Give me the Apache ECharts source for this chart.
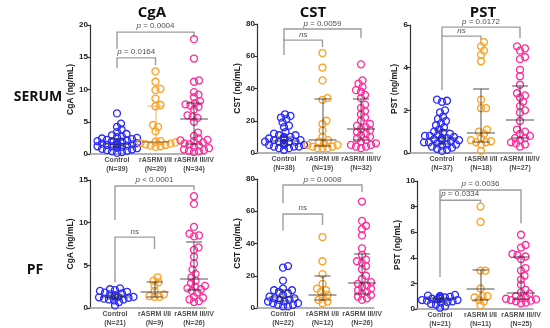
<!DOCTYPE html>
<html><head><meta charset="utf-8">
<script src="https://cdn.jsdelivr.net/npm/echarts@6/dist/echarts.min.js"></script>
<style>html,body{margin:0;padding:0;background:#fff}#c{width:550px;height:328px}</style>
</head><body><div id="c"></div>
<script>
// ---------- data (ng/mL) ----------
const groups = ['Control', 'rASRM I/II', 'rASRM III/IV'];
const panelTitles = ['CgA', 'CST', 'PST'];
const rowTitles = ['SERUM', 'PF'];
const yNames = ['CgA (ng/mL)', 'CST (ng/mL)', 'PST (ng/mL)', 'CgA (ng/mL)', 'CST (ng/mL)', 'PST (ng/mL)'];
const nSerumCgA = [39, 20, 34], nSerumCST = [38, 19, 32], nSerumPST = [37, 18, 27];
const nPfCgA = [21, 9, 26], nPfCST = [22, 12, 26], nPfPST = [21, 11, 25];

const cgaSerumControl = [6.3,4.7,4.2,3.8,3.4,3.1,2.9,2.7,2.6,2.5,2.4,2.3,2.2,2.1,2.0,2.0,1.9,1.8,1.7,1.6,1.6,1.5,1.5,1.4,1.3,1.3,1.2,1.2,1.1,1.0,1.0,0.9,0.8,0.7,0.6,0.5,0.4,0.3,0.2];
const cgaSerumI = [12.8,11.2,10.1,9.9,8.6,7.6,7.4,4.5,4.2,3.5,2.0,1.9,1.8,1.7,1.6,1.5,1.4,1.3,1.2,1.1];
const cgaSerumIII = [17.8,14.8,11.4,11.2,9.6,9.2,8.8,8.2,7.9,7.7,7.5,7.3,6.9,6.0,5.8,5.6,5.0,3.3,2.8,2.4,2.2,2.1,2.0,1.8,1.6,1.5,1.3,1.1,0.9,0.7,0.6,0.5,0.4,0.3];
const cstSerumControl = [24,23,22,21,19,17,16,13,12,11,11,10,10,9,9,9,8,8,8,8,7,7,7,7,6,6,6,6,5,5,5,5,4,4,4,3,3,2];
const cstSerumI = [62,53,45,34,33,20,18,14,10,8,7,6,5,5,4,4,3,3,3];
const cstSerumIII = [55,45,43,41,39,38,36,34,30,28,26,24,22,20,18,17,16,15,14,13,12,11,10,9,8,7,6,5,5,4,4,3];
const pstSerumControl = [2.5,2.45,2.4,2.0,1.9,1.7,1.6,1.5,1.4,1.3,1.2,1.1,1.0,0.95,0.9,0.85,0.8,0.8,0.75,0.7,0.7,0.7,0.65,0.6,0.6,0.55,0.5,0.5,0.45,0.4,0.4,0.35,0.3,0.25,0.2,0.15,0.1];
const pstSerumI = [5.2,5.0,4.8,4.6,4.3,2.5,2.1,2.1,1.1,1.0,0.9,0.7,0.6,0.55,0.5,0.5,0.4,0.1];
const pstSerumIII = [5.0,4.9,4.8,4.5,4.4,3.9,3.6,3.2,2.8,2.7,2.6,2.4,2.2,2.0,1.9,1.5,1.1,1.0,0.9,0.8,0.7,0.7,0.6,0.5,0.45,0.4,0.3];
const cgaPfControl = [2.3,2.2,2.1,2.0,1.9,1.8,1.7,1.6,1.5,1.4,1.35,1.3,1.3,1.25,1.2,1.1,1.0,1.0,0.9,0.7,0.3];
const cgaPfI = [3.6,3.2,3.0,2.6,2.0,1.6,1.4,1.3,1.3];
const cgaPfIII = [13.1,12.2,9.5,8.7,8.5,8.4,7.1,6.8,6.0,5.2,4.5,4.0,3.6,3.2,2.9,2.6,2.5,2.3,2.2,2.0,1.8,1.3,1.2,1.0,0.8,0.7];
const cstPfControl = [26,25,17,12,11,11,10,9,8,7,6,6,5,5,4,4,3,3,2,2,1,1];
const cstPfI = [44,29,21,15,12,11,10,8,7,5,4,3];
const cstPfIII = [66,54,51,49,45,37,33,30,29,28,26,24,20,18,16,15,14,13,12,11,10,9,8,7,6,5];
const pstPfControl = [1.1,1.05,1.0,1.0,0.95,0.9,0.9,0.85,0.8,0.8,0.75,0.7,0.7,0.65,0.6,0.55,0.5,0.4,0.35,0.2,0.1];
const pstPfI = [8.0,6.8,3.0,3.0,1.6,1.0,1.0,0.9,0.7,0.6,0.3];
const pstPfIII = [5.8,5.0,4.8,4.3,4.2,4.1,3.9,3.2,3.0,2.6,2.3,1.9,1.5,1.3,1.2,1.0,0.9,0.85,0.8,0.75,0.7,0.65,0.6,0.5,0.45];

// median, Q1, Q3 per group
const cgaSerumMed = [1.6, 1.9, 5.5], cgaSerumQ1 = [1.05, 1.75, 1.55], cgaSerumQ3 = [2.4, 7.5, 7.9];
const cstSerumMed = [7.5, 8, 15.3], cstSerumQ1 = [5.2, 4.5, 8.4], cstSerumQ3 = [10, 33.5, 33.5];
const pstSerumMed = [0.7, 0.95, 1.55], pstSerumQ1 = [0.45, 0.55, 0.7], pstSerumQ3 = [1.1, 3.0, 3.15];
const cgaPfMed = [1.3, 1.95, 3.45], cgaPfQ1 = [1.1, 1.3, 2.1], cgaPfQ3 = [1.55, 3.1, 7.8];
const cstPfMed = [6.8, 8, 15.7], cstPfQ1 = [4.5, 5, 9.1], cstPfQ3 = [11.5, 19.8, 33.9];
const pstPfMed = [0.8, 1.55, 1.3], pstPfQ1 = [0.55, 0.7, 0.77], pstPfQ3 = [0.9, 3.05, 4.1];

// significance brackets: [group a, group b, bracket y, leg end a, leg end b, text y, text]
const cgaSerumSig = [[1, 3, 18.9, 16.3, 18.1, 19.85, 'p = 0.0004'], [1, 2, 14.9, 13.3, 13.8, 15.8, 'p = 0.0164']];
const cstSerumSig = [[1, 3, 76.9, 70, 71.3, 80, 'p = 0.0059'], [1, 2, 70, 60.8, 65.7, 73.3, 'ns']];
const pstSerumSig = [[1, 3, 5.9, 5.48, 5.39, 6.14, 'p = 0.0172'], [1, 2, 5.48, 2.95, 5.3, 5.72, 'ns']];
const cgaPfSig = [[1, 3, 14.3, 10.3, 13.8, 15.0, 'p < 0.0001'], [1, 2, 8.3, 3.0, 6.9, 8.9, 'ns']];
const cstPfSig = [[1, 3, 76.3, 65, 72, 79.4, 'p = 0.0008'], [1, 2, 58.3, 48, 51.5, 62, 'ns']];
const pstPfSig = [[1, 3, 9.3, 8.5, 6.7, 9.77, 'p = 0.0036'], [1, 2, 8.5, 2.5, 8.3, 8.98, 'p = 0.0334']];

// ---------- layout ----------
const colors = ['#2b2bff', '#ffa020', '#ff2d9a'];
const panels = [
  {data: [cgaSerumControl, cgaSerumI, cgaSerumIII], n: nSerumCgA, med: cgaSerumMed, q1: cgaSerumQ1, q3: cgaSerumQ3, sig: cgaSerumSig,
   L: 90, T: 25, H: 129, c1: 117, s: 38.5, yMax: 20, iv: 5, gap: 10, barColor: [null, '#f0a030', null]},
  {data: [cstSerumControl, cstSerumI, cstSerumIII], n: nSerumCST, med: cstSerumMed, q1: cstSerumQ1, q3: cstSerumQ3, sig: cstSerumSig,
   L: 257, T: 24, H: 129, c1: 284, s: 38.5, yMax: 80, iv: 20, gap: 6},
  {data: [pstSerumControl, pstSerumI, pstSerumIII], n: nSerumPST, med: pstSerumMed, q1: pstSerumQ1, q3: pstSerumQ3, sig: pstSerumSig,
   L: 410, T: 25, H: 128, c1: 442, s: 39, yMax: 6, iv: 2, gap: 4},
  {data: [cgaPfControl, cgaPfI, cgaPfIII], n: nPfCgA, med: cgaPfMed, q1: cgaPfQ1, q3: cgaPfQ3, sig: cgaPfSig,
   L: 90, T: 180, H: 128, c1: 115, s: 39.5, yMax: 15, iv: 5, gap: 13},
  {data: [cstPfControl, cstPfI, cstPfIII], n: nPfCST, med: cstPfMed, q1: cstPfQ1, q3: cstPfQ3, sig: cstPfSig,
   L: 257, T: 179, H: 129, c1: 283, s: 39.5, yMax: 80, iv: 20, gap: 13},
  {data: [pstPfControl, pstPfI, pstPfIII], n: nPfPST, med: pstPfMed, q1: pstPfQ1, q3: pstPfQ3, sig: pstPfSig,
   L: 417, T: 181, H: 128, c1: 440, s: 40.5, yMax: 10, iv: 2, gap: 11}
];

// beeswarm offsets (in category units) so overlapping points spread sideways
function swarm(vals, pxPerUnit, s, diam) {
  const order = vals.map((v, i) => ({v, i})).sort((a, b) => a.v - b.v);
  const placed = [], offs = new Array(vals.length);
  for (const p of order) {
    const y = p.v * pxPerUnit;
    let x = 0;
    for (let k = 0; k < 80; k++) {
      const c = k === 0 ? 0 : (k % 2 ? 1 : -1) * Math.ceil(k / 2) * 0.5;
      if (placed.every(q => Math.hypot(q.x - c, q.y - y) >= diam)) { x = c; break; }
    }
    placed.push({x, y});
    offs[p.i] = x / s;
  }
  return offs;
}

const axisFont = 'Liberation Sans, Arial, sans-serif';
const grids = [], xAxes = [], yAxes = [], series = [];
panels.forEach((p, k) => {
  const xMin = 1 - (p.c1 - p.L) / p.s;
  const xMax = 3.3;
  const W = (xMax - xMin) * p.s;
  grids.push({left: p.L, top: p.T, width: W, height: p.H});
  xAxes.push({
    gridIndex: k, type: 'value', min: xMin, max: xMax,
    splitLine: {show: false},
    axisLine: {show: true, onZero: false, lineStyle: {color: '#9a9a9a', width: 1.5}},
    axisTick: {show: false},
    axisLabel: {show: false}
  });
  yAxes.push({
    gridIndex: k, type: 'value', min: 0, max: p.yMax, interval: p.iv,
    name: yNames[k], nameLocation: 'middle', nameGap: p.gap, nameRotate: 90,
    nameTextStyle: {fontFamily: axisFont, fontSize: 8.5, fontWeight: 'bold', color: '#222'},
    splitLine: {show: false},
    axisLine: {show: true, lineStyle: {color: '#333', width: 1.2}},
    axisTick: {show: true, length: 3, lineStyle: {color: '#333', width: 1.2}},
    axisLabel: {margin: 2, fontFamily: axisFont, fontSize: 8, fontWeight: 'bold', color: '#222'}
  });
  const ppu = p.H / p.yMax;
  // category labels, anchored at each group's position on the x axis
  series.push({
    type: 'scatter', xAxisIndex: k, yAxisIndex: k, symbolSize: 0, clip: false, silent: true,
    data: groups.map((g, i) => ({value: [i + 1, 0], name: g + '\n(N=' + p.n[i] + ')'})),
    label: {show: true, position: 'bottom', distance: 1, lineHeight: 9.5, formatter: d => d.name,
      fontFamily: axisFont, fontSize: 7, fontWeight: 'bold', color: '#222'},
    labelLayout: {hideOverlap: false}
  });
  // points
  p.data.forEach((vals, g) => {
    const offs = swarm(vals, ppu, p.s, 5.0);
    series.push({
      type: 'scatter', xAxisIndex: k, yAxisIndex: k, symbol: 'circle', symbolSize: 7, clip: false,
      itemStyle: {color: 'rgba(255,255,255,0)', borderColor: colors[g], borderWidth: 1.3, opacity: 1},
      data: vals.map((v, i) => [g + 1 + offs[i], v]), z: 2
    });
  });
  // median + IQR bars
  const medHalf = 14 / p.s, capHalf = 8 / p.s;
  const bars = [];
  [0, 1, 2].forEach(g => {
    const x = g + 1;
    const col = (p.barColor && p.barColor[g]) || '#262626';
    const ls = {color: col, width: 1.6};
    bars.push({coords: [[x, p.q1[g]], [x, p.q3[g]]], lineStyle: ls});
    bars.push({coords: [[x - capHalf, p.q1[g]], [x + capHalf, p.q1[g]]], lineStyle: ls});
    bars.push({coords: [[x - capHalf, p.q3[g]], [x + capHalf, p.q3[g]]], lineStyle: ls});
    bars.push({coords: [[x - medHalf, p.med[g]], [x + medHalf, p.med[g]]], lineStyle: {color: (p.barColor && p.barColor[g]) ? '#6a4a20' : col, width: 1.6}});
  });
  series.push({type: 'lines', coordinateSystem: 'cartesian2d', xAxisIndex: k, yAxisIndex: k, polyline: false,
    clip: false, silent: true, data: bars, z: 3});
  // significance brackets
  series.push({type: 'lines', coordinateSystem: 'cartesian2d', xAxisIndex: k, yAxisIndex: k, polyline: true,
    clip: false, silent: true, lineStyle: {color: '#3c3c3c', width: 1.4},
    data: p.sig.map(b => ({coords: [[b[0], b[3]], [b[0], b[2]], [b[1], b[2]], [b[1], b[4]]]}))});
  series.push({type: 'scatter', xAxisIndex: k, yAxisIndex: k, symbolSize: 0, clip: false, silent: true,
    data: p.sig.map(b => ({value: [(b[0] + b[1]) / 2, b[5]], txt: b[6]})),
    label: {show: true, position: 'inside', fontFamily: axisFont, fontSize: 8, color: '#222',
      formatter: d => d.data.txt === 'ns' ? '{i|ns}' : '{i|p}' + d.data.txt.slice(1),
      rich: {i: {fontStyle: 'italic', fontFamily: axisFont, fontSize: 8, color: '#222'}}}
  });
});

const titleFont = 'Open Sans, Lato, sans-serif';
const graphics = [
  {type: 'text', x: 152, y: 13, style: {text: panelTitles[0], font: 'bold 15px ' + titleFont, fill: '#111', align: 'center', verticalAlign: 'middle'}},
  {type: 'text', x: 313, y: 13, style: {text: panelTitles[1], font: 'bold 15px ' + titleFont, fill: '#111', align: 'center', verticalAlign: 'middle'}},
  {type: 'text', x: 483, y: 13, style: {text: panelTitles[2], font: 'bold 15px ' + titleFont, fill: '#111', align: 'center', verticalAlign: 'middle'}},
  {type: 'text', x: 38, y: 97, style: {text: rowTitles[0], font: 'bold 14px ' + titleFont, fill: '#111', align: 'center', verticalAlign: 'middle'}},
  {type: 'text', x: 35, y: 270, style: {text: rowTitles[1], font: 'bold 14px ' + titleFont, fill: '#111', align: 'center', verticalAlign: 'middle'}}
];

const chart = echarts.init(document.getElementById('c'), null, {renderer: 'canvas'});
chart.setOption({animation: false, grid: grids, xAxis: xAxes, yAxis: yAxes, series, graphic: graphics});
</script></body></html>
